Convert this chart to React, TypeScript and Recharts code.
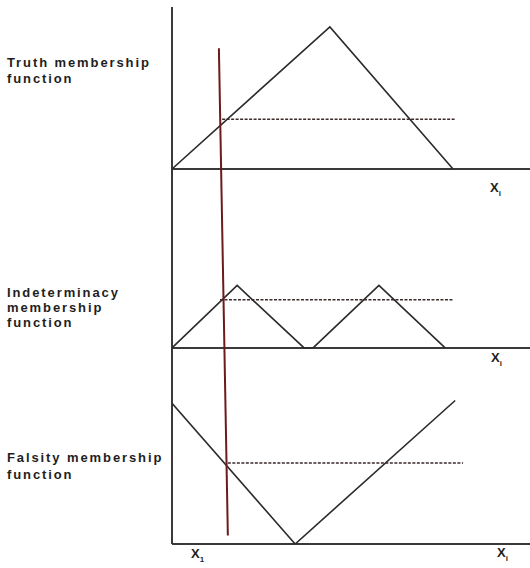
import { ComposedChart, Line, XAxis, YAxis, ReferenceLine } from "recharts";

// membership universe (x from 0 to 10 across the plot)
const truthX = [0, 4.41, 7.85];
const truthY = [0, 1, 0];
const indetX = [0, 1.82, 3.69, 3.94, 5.78, 7.63];
const indetY = [0, 0.44, 0, 0, 0.44, 0];
const falsityX = [0, 3.44, 7.91];
const falsityY = [0.99, 0, 1.01];

// cut levels (dashed) and their x spans
const cutLevels = [0.35, 0.34, 0.57];
const cutFrom = [1.4, 1.34, 1.56];
const cutTo = [7.91, 7.85, 8.13];

// the red x1 line, top and bottom
const x1X = [1.31, 1.56];
const x1Y = [3.49, 0.06];

// where each panel's zero sits on the shared y axis
const panelBase = [2.64, 1.38, 0];
const panelNames = [
  ["Truth membership", "function"],
  ["Indeterminacy", "membership", "function"],
  ["Falsity membership", "function"],
];

const toPoints = (xs: number[], ys: number[], base: number) =>
  xs.map((x, i) => ({ x, y: ys[i] + base }));

const truthData = toPoints(truthX, truthY, panelBase[0]);
const indetData = toPoints(indetX, indetY, panelBase[1]);
const falsityData = toPoints(falsityX, falsityY, panelBase[2]);
const cutData = cutLevels.map((lv, i) => [
  { x: cutFrom[i], y: lv + panelBase[i] },
  { x: cutTo[i], y: lv + panelBase[i] },
]);
const x1Data = x1X.map((x, i) => ({ x, y: x1Y[i] }));

const lineColor = "#2b2b2b";
const labelStyle: React.CSSProperties = {
  position: "absolute",
  left: 7,
  fontFamily: "'Liberation Sans', Arial, sans-serif",
  fontWeight: "bold",
  fontSize: 13,
  letterSpacing: 1.9,
  color: "#1e1e1e",
  whiteSpace: "nowrap",
};
const xLabel: React.CSSProperties = {
  position: "absolute",
  fontFamily: "'Liberation Sans', Arial, sans-serif",
  fontWeight: "bold",
  fontSize: 13,
  color: "#1e1e1e",
};

const labelTops = [55, 285, 450];
const lineGaps = [16, 15, 17];

export default function App() {
  return (
    <div style={{ position: "absolute", left: 0, top: 0, width: 530, height: 568, background: "#fff" }}>
      <ComposedChart width={530} height={568} margin={{ top: 7, right: 0, bottom: 24, left: 172 }}>
        <XAxis type="number" dataKey="x" domain={[0, 10]} hide allowDataOverflow />
        <YAxis type="number" dataKey="y" domain={[0, 3.78]} hide allowDataOverflow />
        <ReferenceLine x={0} stroke="#3a3a3a" strokeWidth={2} />
        {panelBase.map((b) => (
          <ReferenceLine key={b} y={b} stroke="#3a3a3a" strokeWidth={2} />
        ))}
        <Line data={truthData} dataKey="y" type="linear" stroke={lineColor} strokeWidth={1.6} dot={false} isAnimationActive={false} />
        <Line data={indetData} dataKey="y" type="linear" stroke={lineColor} strokeWidth={1.6} dot={false} isAnimationActive={false} />
        <Line data={falsityData} dataKey="y" type="linear" stroke={lineColor} strokeWidth={1.6} dot={false} isAnimationActive={false} />
        {cutData.map((d, i) => (
          <Line key={i} data={d} dataKey="y" type="linear" stroke="#3d2a2a" strokeWidth={1.5} strokeDasharray="3 1.5" dot={false} isAnimationActive={false} />
        ))}
        <Line data={x1Data} dataKey="y" type="linear" stroke="#6e1a1a" strokeWidth={2} dot={false} isAnimationActive={false} />
      </ComposedChart>
      {panelNames.map((lines, i) =>
        lines.map((t, j) => (
          <div key={i + "-" + j} style={{ ...labelStyle, top: labelTops[i] + j * lineGaps[i] }}>
            {t}
          </div>
        ))
      )}
      <div style={{ ...xLabel, left: 490, top: 180 }}>X<sub style={{ fontSize: 8 }}>i</sub></div>
      <div style={{ ...xLabel, left: 491, top: 350 }}>X<sub style={{ fontSize: 8 }}>i</sub></div>
      <div style={{ ...xLabel, left: 497, top: 545 }}>X<sub style={{ fontSize: 8 }}>i</sub></div>
      <div style={{ ...xLabel, left: 191, top: 546 }}>X<sub style={{ fontSize: 8 }}>1</sub></div>
    </div>
  );
}
